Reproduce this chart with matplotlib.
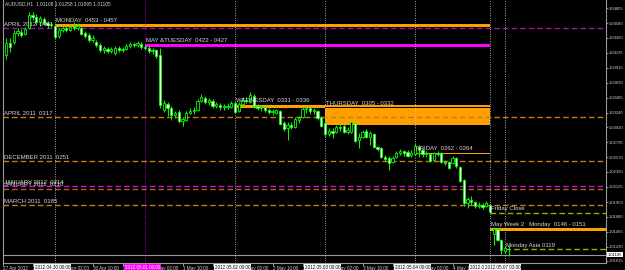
import matplotlib
matplotlib.use('Agg')
import matplotlib.pyplot as plt
import numpy as np

# ---------------- data (AUDUSD H1) ----------------
opens = [1.0411, 1.0429, 1.0430, 1.0444, 1.0445, 1.0442, 1.0451, 1.0471, 1.0468, 1.0460,
         1.0465, 1.0459, 1.0456, 1.0454, 1.0439, 1.0448, 1.0451, 1.0448, 1.0453, 1.0451,
         1.0451, 1.0444, 1.0441, 1.0433, 1.0430, 1.0426, 1.0418, 1.0420, 1.0417, 1.0414,
         1.0421, 1.0418, 1.0420, 1.0424, 1.0427, 1.0426, 1.0427, 1.0423, 1.0421, 1.0417,
         1.0418, 1.0411, 1.0328, 1.0337, 1.0331, 1.0321, 1.0325, 1.0312, 1.0313, 1.0324,
         1.0327, 1.0328, 1.0342, 1.0346, 1.0340, 1.0342, 1.0334, 1.0336, 1.0333, 1.0333,
         1.0333, 1.0339, 1.0327, 1.0337, 1.0343, 1.0340, 1.0349, 1.0334, 1.0331, 1.0333,
         1.0328, 1.0325, 1.0324, 1.0327, 1.0309, 1.0301, 1.0306, 1.0303, 1.0313, 1.0318,
         1.0330, 1.0331, 1.0327, 1.0327, 1.0318, 1.0309, 1.0292, 1.0297, 1.0295, 1.0303,
         1.0304, 1.0295, 1.0295, 1.0309, 1.0283, 1.0288, 1.0297, 1.0288, 1.0292, 1.0273,
         1.0271, 1.0258, 1.0256, 1.0250, 1.0258, 1.0264, 1.0267, 1.0265, 1.0261, 1.0262,
         1.0273, 1.0268, 1.0262, 1.0262, 1.0253, 1.0264, 1.0264, 1.0250, 1.0250, 1.0249,
         1.0256, 1.0243, 1.0223, 1.0189, 1.0193, 1.0190, 1.0184, 1.0186, 1.0184, 1.0186,
         1.0142, 1.0150, 1.0133, 1.0117, 1.01108]
highs = [1.0436, 1.0436, 1.0448, 1.0451, 1.0450, 1.0453, 1.0475, 1.0475, 1.0472, 1.0469,
         1.0468, 1.0462, 1.0460, 1.0457, 1.0451, 1.0456, 1.0454, 1.0457, 1.0460, 1.0459,
         1.0454, 1.0447, 1.0444, 1.0441, 1.0433, 1.0429, 1.0424, 1.0423, 1.0423, 1.0424,
         1.0424, 1.0423, 1.0427, 1.0430, 1.0430, 1.0432, 1.0430, 1.0426, 1.0424, 1.0421,
         1.0420, 1.0421, 1.0343, 1.0340, 1.0334, 1.0327, 1.0328, 1.0318, 1.0327, 1.0331,
         1.0333, 1.0345, 1.0352, 1.0349, 1.0346, 1.0345, 1.0340, 1.0339, 1.0337, 1.0339,
         1.0342, 1.0342, 1.0340, 1.0348, 1.0348, 1.0355, 1.0352, 1.0337, 1.0336, 1.0334,
         1.0331, 1.0330, 1.0330, 1.0328, 1.0312, 1.0310, 1.0310, 1.0318, 1.0319, 1.0333,
         1.0334, 1.0333, 1.0331, 1.0328, 1.0319, 1.0312, 1.0301, 1.0301, 1.0306, 1.0307,
         1.0307, 1.0303, 1.0312, 1.0310, 1.0294, 1.0298, 1.0300, 1.0297, 1.0294, 1.0274,
         1.0273, 1.0261, 1.0259, 1.0259, 1.0267, 1.0270, 1.0268, 1.0268, 1.0268, 1.0279,
         1.0276, 1.0271, 1.0267, 1.0264, 1.0265, 1.0267, 1.0265, 1.0253, 1.0252, 1.0259,
         1.0258, 1.0244, 1.0225, 1.0198, 1.0199, 1.0192, 1.0190, 1.0189, 1.0192, 1.0187,
         1.0153, 1.0151, 1.0135, 1.0124, 1.01258]
lows = [1.0405, 1.0415, 1.0427, 1.0439, 1.0438, 1.0441, 1.0450, 1.0463, 1.0456, 1.0454,
        1.0456, 1.0451, 1.0453, 1.0435, 1.0436, 1.0445, 1.0445, 1.0447, 1.0448, 1.0448,
        1.0441, 1.0436, 1.0430, 1.0430, 1.0423, 1.0415, 1.0414, 1.0414, 1.0414, 1.0411,
        1.0415, 1.0415, 1.0418, 1.0421, 1.0423, 1.0423, 1.0420, 1.0418, 1.0414, 1.0412,
        1.0406, 1.0331, 1.0325, 1.0319, 1.0313, 1.0316, 1.0309, 1.0304, 1.0312, 1.0322,
        1.0322, 1.0327, 1.0340, 1.0337, 1.0336, 1.0331, 1.0331, 1.0328, 1.0328, 1.0330,
        1.0331, 1.0324, 1.0325, 1.0334, 1.0339, 1.0339, 1.0331, 1.0328, 1.0327, 1.0325,
        1.0322, 1.0321, 1.0322, 1.0306, 1.0297, 1.0283, 1.0300, 1.0301, 1.0309, 1.0316,
        1.0324, 1.0322, 1.0322, 1.0313, 1.0303, 1.0288, 1.0289, 1.0286, 1.0294, 1.0297,
        1.0294, 1.0292, 1.0294, 1.0280, 1.0271, 1.0286, 1.0286, 1.0276, 1.0271, 1.0267,
        1.0256, 1.0252, 1.0238, 1.0249, 1.0256, 1.0261, 1.0259, 1.0258, 1.0258, 1.0261,
        1.0258, 1.0258, 1.0258, 1.0250, 1.0252, 1.0259, 1.0249, 1.0246, 1.0240, 1.0247,
        1.0241, 1.0220, 1.0184, 1.0181, 1.0186, 1.0181, 1.0181, 1.0180, 1.0183, 1.0174,
        1.0126, 1.0132, 1.0112, 1.0114, 1.01095]
closes = [1.0429, 1.0423, 1.0444, 1.0447, 1.0441, 1.0450, 1.0471, 1.0468, 1.0460, 1.0466,
          1.0459, 1.0456, 1.0457, 1.0438, 1.0448, 1.0451, 1.0448, 1.0453, 1.0451, 1.0454,
          1.0442, 1.0439, 1.0433, 1.0436, 1.0426, 1.0418, 1.0421, 1.0417, 1.0420, 1.0421,
          1.0418, 1.0420, 1.0424, 1.0427, 1.0426, 1.0429, 1.0423, 1.0421, 1.0417, 1.0418,
          1.0409, 1.0336, 1.0339, 1.0331, 1.0321, 1.0324, 1.0312, 1.0315, 1.0324, 1.0327,
          1.0328, 1.0342, 1.0348, 1.0340, 1.0343, 1.0334, 1.0337, 1.0333, 1.0334, 1.0334,
          1.0339, 1.0325, 1.0337, 1.0343, 1.0342, 1.0351, 1.0334, 1.0331, 1.0333, 1.0328,
          1.0325, 1.0327, 1.0328, 1.0307, 1.0300, 1.0306, 1.0303, 1.0315, 1.0316, 1.0330,
          1.0331, 1.0327, 1.0328, 1.0316, 1.0304, 1.0292, 1.0297, 1.0294, 1.0303, 1.0301,
          1.0295, 1.0298, 1.0310, 1.0282, 1.0288, 1.0295, 1.0288, 1.0294, 1.0273, 1.0270,
          1.0258, 1.0255, 1.0249, 1.0256, 1.0264, 1.0267, 1.0264, 1.0259, 1.0264, 1.0274,
          1.0268, 1.0262, 1.0264, 1.0252, 1.0264, 1.0262, 1.0250, 1.0249, 1.0241, 1.0256,
          1.0244, 1.0222, 1.0189, 1.0195, 1.0190, 1.0184, 1.0186, 1.0183, 1.0189, 1.0175,
          1.0150, 1.0133, 1.0118, 1.0121, 1.01105]

# horizontal reference levels (full width, dashed)
level_labels = ["APRIL 2012  0451", "APRIL 2011  0317", "DECEMBER 2011  0251",
                "JANUARY 2012  0214", "JANUARY 2011  0210", "MARCH 2011  0185"]
level_values = [1.0451, 1.0317, 1.0251, 1.0214, 1.0210, 1.0185]
level_colors = ['#a010a8', '#c8781c', '#c8781c', '#d010d0', '#b0661a', '#c8781c']

# daily range zones
zone_labels = ["MONDAY  0453 - 0457", "MAY &TUESDAY  0422 - 0427", "WEDNESDAY  0331 - 0336",
               "THURSDAY  0305 - 0332", "FRIDAY  0262 - 0264", "May Week 2   Monday  0146 - 0151"]
zone_low = [1.0453, 1.0422, 1.0331, 1.0305, 1.0262, 1.0146]
zone_high = [1.0457, 1.0427, 1.0336, 1.0332, 1.0264, 1.0151]
zone_start = [13, 37, 61, 85, 109, 129]
zone_end = [129, 129, 129, 129, 129, 160]
zone_colors = ['#ffa000', '#ff00ff', '#ffa000', '#ffa000', '#ffa000', '#ffa000']

# partial levels
part_labels = ["Friday Close", "Monday Asia 0119"]
part_values = [1.0174, 1.0119]
part_start = [129, 133]

# vertical session lines
vline_pos = [13, 37, 61, 85, 109, 129, 133]
vline_colors = ['#c8c8c8', '#d000d0', '#c8c8c8', '#c8c8c8', '#c8c8c8', '#c8c8c8', '#c8c8c8']
vline_tags = ["2012.04.30 00:00", "2012.05.01 00:00", "2012.05.02 00:00", "2012.05.03 00:00",
              "2012.05.04 00:00", "2012.05.04 20:00", "2012.05.07 03:00"]

# time axis labels
time_pos = [-0.8, 7, 15, 23, 31, 39, 47, 55, 63, 71, 79, 87, 95, 103, 111, 119, 127]
time_labels = ["27 Apr 2012", "27 Apr 15:00", "30 Apr 02:00", "30 Apr 10:00", "30 Apr 18:00",
               "1 May 02:00", "1 May 10:00", "1 May 18:00", "2 May 02:00", "2 May 10:00",
               "2 May 18:00", "3 May 02:00", "3 May 10:00", "3 May 18:00", "4 May 02:00",
               "4 May 10:00", "4 May 18:00"]

price_ticks = [1.04805, 1.04580, 1.04360, 1.04135, 1.03915, 1.03690, 1.03465, 1.03240,
               1.03020, 1.02795, 1.02570, 1.02350, 1.02125, 1.01900, 1.01680, 1.01455,
               1.01230, 1.01015]
bid = 1.01105
header = "AUDUSD,H1  1.01108 1.01258 1.01095 1.01105"

# ---------------- drawing ----------------
FONT = 'Liberation Sans'
TXT = '#d8d8d8'
fig = plt.figure(figsize=(6.25, 2.70), dpi=100, facecolor='black')
ax = fig.add_axes([3 / 625, 7 / 270, 603 / 625, 263 / 270], facecolor='black')
ax.set_xlim(-0.87, 159.93)
ax.set_ylim(1.00985, 1.04930)

o = np.array(opens); h = np.array(highs); l = np.array(lows); c = np.array(closes)
x = np.arange(len(o))

# zones
for lo, hi, s, e, col in zip(zone_low, zone_high, zone_start, zone_end, zone_colors):
    ax.fill_between([s, e], lo, hi, color=col, lw=0, zorder=1)
# overlapping part of Wednesday / Thursday zones shows black (XOR drawing)
ov_lo = max(zone_low[2], zone_low[3]); ov_hi = min(zone_high[2], zone_high[3])
if ov_hi > ov_lo:
    ax.fill_between([zone_start[3], zone_end[3]], ov_lo, ov_hi, color='black', lw=0, zorder=1.1)

for lab, lo, hi, s in zip(zone_labels, zone_low, zone_high, zone_start):
    ax.annotate(lab, (s + 0.3, hi), xytext=(0, 1.0), textcoords='offset points',
                ha='left', va='bottom', color=TXT, fontsize=4.3, family=FONT, zorder=6)

# full-width dashed levels
for lab, v, col in zip(level_labels, level_values, level_colors):
    ax.axhline(v, color=col, lw=1.0, ls=(0, (4.0, 2.2)), zorder=2)
    ax.annotate(lab, (0.0, v), xycoords=('axes fraction', 'data'), xytext=(1.0, 1.0),
                textcoords='offset points', ha='left', va='bottom', color=TXT,
                fontsize=4.3, family=FONT, zorder=6)

# partial olive levels
for lab, v, s in zip(part_labels, part_values, part_start):
    ax.plot([s, 159.93], [v, v], color='#a8a800', lw=1.0, ls=(0, (4.0, 2.2)), zorder=2)
    ax.annotate(lab, (s + 0.2, v), xytext=(0, 1.0), textcoords='offset points',
                ha='left', va='bottom', color=TXT, fontsize=4.3, family=FONT, zorder=6)

# bid line
ax.axhline(bid, color='#9a9a9a', lw=0.8, zorder=2)

# vertical lines
for p, col in zip(vline_pos, vline_colors):
    ax.axvline(p, color=col, lw=0.7, ls=(0, (0.8, 1.6)), zorder=2)

# candles
up = c >= o
ax.vlines(x, l, h, color='#00ff00', lw=0.7, zorder=4)
body_lo = np.minimum(o, c)
body_h = np.maximum(np.abs(c - o), 0.00003)
ax.bar(x[up], body_h[up], bottom=body_lo[up], width=0.62, color='black',
       edgecolor='#00ff00', linewidth=0.6, zorder=5)
ax.bar(x[~up], body_h[~up], bottom=body_lo[~up], width=0.62, color='white',
       edgecolor='#00ff00', linewidth=0.6, zorder=5)

# axes frame
for side in ['left', 'right', 'bottom']:
    ax.spines[side].set_color('#9a9a9a')
    ax.spines[side].set_linewidth(0.8)
ax.spines['top'].set_visible(False)

# price axis on the right
ax.yaxis.tick_right()
ax.set_yticks(price_ticks)
ax.set_yticklabels([f"{v:.5f}" for v in price_ticks])
ax.tick_params(axis='y', colors='#d0d0d0', length=1.5, width=0.5, pad=0.6,
               labelsize=3.0, labelcolor='#d0d0d0')
for t in ax.get_yticklabels():
    t.set_family(FONT)

# time axis
ax.set_xticks(time_pos)
ax.set_xticklabels(time_labels)
ax.tick_params(axis='x', colors='#d0d0d0', length=2, width=0.5, pad=0.4,
               labelsize=3.3, labelcolor='#d0d0d0')
for t in ax.get_xticklabels():
    t.set_ha('left')
    t.set_family(FONT)

# tags of vertical lines on the time axis
xt = ax.get_xaxis_transform()
for p, col, tag in zip(vline_pos, vline_colors, vline_tags):
    magenta = col != '#c8c8c8'
    ax.text(p - 0.6, -0.008, tag, transform=xt, ha='center', va='top', fontsize=3.3,
            family=FONT, color='white' if magenta else 'black', clip_on=False, zorder=10,
            bbox=dict(boxstyle='square,pad=0.15', fc='#ff00ff' if magenta else 'white',
                      ec='none'))

# current price tag
yt = ax.get_yaxis_transform()
ax.text(1.003, bid, f"{bid:.5f}", transform=yt, ha='left', va='center', fontsize=3.0,
        family=FONT, color='black', clip_on=False, zorder=10,
        bbox=dict(boxstyle='square,pad=0.12', fc='white', ec='none'))

# header
ax.text(0.004, 0.995, header, transform=ax.transAxes, ha='left', va='top',
        fontsize=3.5, family=FONT, color='#d0d0d0', zorder=10)

fig.savefig('out.png', dpi=100, facecolor='black')
